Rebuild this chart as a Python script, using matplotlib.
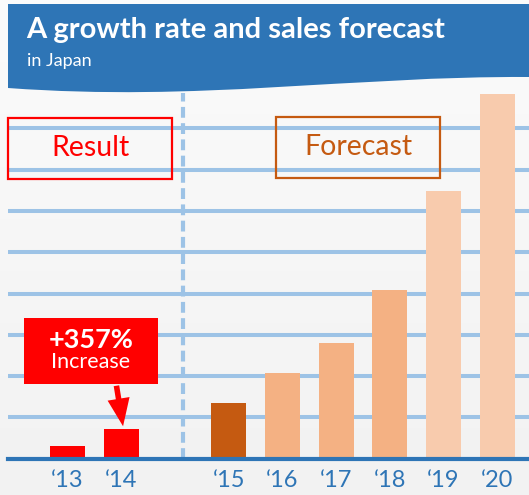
import matplotlib
matplotlib.use('Agg')
import matplotlib.pyplot as plt
import numpy as np
from matplotlib.patches import Rectangle, PathPatch, FancyArrowPatch
from matplotlib.path import Path

plt.rcParams['font.family'] = ['Lato', 'DejaVu Sans']

years = ['\u201813', '\u201814', '\u201815', '\u201816', '\u201817', '\u201818', '\u201819', '\u201820']
positions = [0, 1, 3, 4, 5, 6, 7, 8]
sales = [0.31, 0.72, 1.35, 2.07, 2.80, 4.08, 6.48, 8.83]
colors = ['#FF0000', '#FF0000', '#C55A11', '#F4B183', '#F4B183', '#F4B183', '#F8CBAD', '#F8CBAD']
grid_levels = [1, 2, 3, 4, 5, 6, 7, 8]

W, H = 529, 495
BLUE = '#2E75B6'
LIGHT = '#9DC3E6'


def fx(px):
    return px / W


def fy(py):
    return 1 - py / H


fig = plt.figure(figsize=(W / 100, H / 100), dpi=100)

# background gradient
bg = fig.add_axes([0, 0, 1, 1], zorder=-1)
grad = np.linspace(0.985, 0.948, 256).reshape(-1, 1)
bg.imshow(np.dstack([grad, grad, grad]), aspect='auto', extent=[0, 1, 0, 1])
bg.axhspan(0, fy(458), color='#F2F2F2')
bg.set_xlim(0, 1)
bg.set_ylim(0, 1)
bg.axis('off')

# main chart axes: bottom at the baseline
x0 = -67.65 / 53.7
x1 = (W - 67.65) / 53.7
ax = fig.add_axes([0, fy(458.7), 1, 1 - fy(458.7)])
ax.patch.set_alpha(0)
ax.set_xlim(x0, x1)
ax.set_ylim(0, 458.7 / 41.3)
xs = x0 + 8 / 53.7
ax.hlines(grid_levels, xs, x1, color=LIGHT, lw=2.9, zorder=1)
ax.vlines(2.154, 0, (458.7 - 93) / 41.3, color=LIGHT, lw=3, linestyles=(0, (2.6, 1.3)), zorder=1)
ax.bar(positions, sales, width=0.652, color=colors, zorder=3)

for s in ['top', 'left', 'right']:
    ax.spines[s].set_visible(False)
ax.spines['bottom'].set_color(BLUE)
ax.spines['bottom'].set_linewidth(3)
ax.spines['bottom'].set_bounds(xs, x1)
ax.spines['bottom'].set_zorder(4)
ax.set_yticks([])
ax.set_xticks(positions, years)
ax.tick_params(axis='x', length=0, pad=8, labelsize=17, labelcolor=BLUE)

# header band with curved bottom
verts = [(fx(8), fy(4)), (fx(W), fy(4)), (fx(W), fy(77)),
         (fx(350), fy(76)), (fx(200), fy(102)), (fx(8), fy(88)),
         (fx(8), fy(4))]
codes = [Path.MOVETO, Path.LINETO, Path.LINETO,
         Path.CURVE4, Path.CURVE4, Path.CURVE4, Path.CLOSEPOLY]
fig.patches.append(PathPatch(Path(verts, codes), facecolor=BLUE, edgecolor='none',
                             transform=fig.transFigure, zorder=5))
fig.text(fx(26), fy(30), 'A growth rate and sales forecast', color='white',
         fontsize=21, fontweight='bold', va='center', ha='left', zorder=10)
fig.text(fx(27), fy(61), 'in Japan', color='white', fontsize=13, va='center', ha='left', zorder=10)

# Result / Forecast boxes
fig.patches.append(Rectangle((fx(8), fy(178.5)), fx(164), 61 / H, fill=False,
                             edgecolor='#FF0000', lw=1.6, transform=fig.transFigure, zorder=6))
fig.text(fx(90), fy(148), 'Result', color='#FF0000', fontsize=20.5, ha='center', va='center', zorder=10)
fig.patches.append(Rectangle((fx(276), fy(177.5)), fx(164), 61 / H, fill=False,
                             edgecolor='#C55A11', lw=1.6, transform=fig.transFigure, zorder=6))
fig.text(fx(358), fy(147), 'Forecast', color='#C55A11', fontsize=20.5, ha='center', va='center', zorder=10)

# increase callout
fig.patches.append(Rectangle((fx(24), fy(384)), fx(134), 66 / H, facecolor='#FF0000',
                             edgecolor='none', transform=fig.transFigure, zorder=6))
fig.text(fx(91), fy(340), '+357%', color='white', fontsize=19.5, fontweight='bold',
         ha='center', va='center', zorder=10)
fig.text(fx(91), fy(362), 'Increase', color='white', fontsize=15.5, ha='center', va='center', zorder=10)
fig.patches.append(FancyArrowPatch((fx(116), fy(383)), (fx(123.5), fy(429)),
                                   arrowstyle='simple,head_length=20,head_width=16,tail_width=4',
                                   mutation_scale=1, color='#FF0000', lw=0,
                                   transform=fig.transFigure, zorder=6))

fig.savefig('out.png', dpi=100)
